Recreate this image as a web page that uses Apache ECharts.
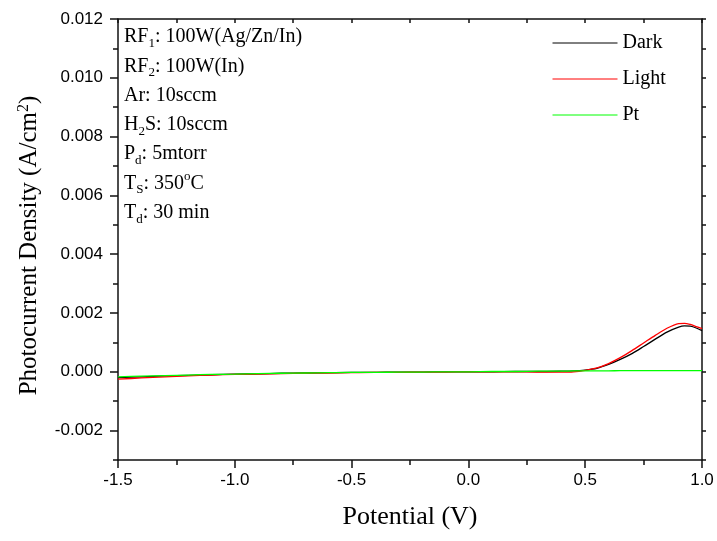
<!DOCTYPE html>
<html>
<head>
<meta charset="utf-8">
<script src="https://cdn.jsdelivr.net/npm/echarts@6/dist/echarts.min.js"></script>
<style>
  html, body { margin: 0; padding: 0; background: #fff; }
  #chart { width: 717px; height: 541px; }
</style>
</head>
<body>
<div id="chart"></div>
<script>
// Potential sweep (V)
const potential = [-1.5, -1.4, -1.3, -1.2, -1.1, -1.0, -0.9, -0.8, -0.7, -0.6, -0.5, -0.4, -0.3, -0.2, -0.1,
  0.0, 0.1, 0.2, 0.3, 0.4, 0.45, 0.5, 0.55, 0.6, 0.65, 0.7, 0.75, 0.8, 0.85, 0.9, 0.925, 0.95, 0.975, 1.0];

// Photocurrent density (A/cm^2)
const darkCurrent = [-0.00020, -0.00017, -0.00014, -0.00012, -0.00010, -0.00008, -0.00007, -0.00005, -0.00004, -0.00003,
  -0.00002, -0.00002, -0.00001, -0.00001, 0, 0, 0, 0.00001, 0.00001, 0.00002, 0.00003, 0.00006, 0.00012, 0.00025,
  0.00042, 0.00062, 0.00086, 0.00111, 0.00135, 0.00152, 0.00156, 0.00155, 0.00149, 0.00140];
const lightCurrent = [-0.00025, -0.00021, -0.00017, -0.00014, -0.00011, -0.00009, -0.00008, -0.00006, -0.00005, -0.00004,
  -0.00003, -0.00002, -0.00002, -0.00001, -0.00001, 0, 0, 0, -0.00001, -0.00001, 0, 0.00005, 0.00013, 0.00028,
  0.00048, 0.00072, 0.00098, 0.00124, 0.00148, 0.00164, 0.00165, 0.00161, 0.00154, 0.00147];
const ptCurrent = [-0.00017, -0.00015, -0.00013, -0.00011, -0.00009, -0.00008, -0.00006, -0.00005, -0.00004, -0.00003,
  -0.00002, -0.00002, -0.00001, -0.00001, 0, 0, 0.00001, 0.00001, 0.00002, 0.00002, 0.00003, 0.00003, 0.00003, 0.00003,
  0.00004, 0.00004, 0.00004, 0.00004, 0.00004, 0.00004, 0.00004, 0.00004, 0.00004, 0.00004];

// Labelled ticks on the current axis
const currentTicks = [-0.002, 0.000, 0.002, 0.004, 0.006, 0.008, 0.010, 0.012];

const seriesNames = ['Dark', 'Light', 'Pt'];
const seriesColors = ['#000000', '#ff0000', '#00ff00'];

// Deposition conditions, one entry per line (rich-text markup)
const conditionLines = [
  '{m|RF}{sub|1}{m|: 100W(Ag/Zn/In)}',
  '{m|RF}{sub|2}{m|: 100W(In)}',
  '{m|Ar: 10sccm}',
  '{m|H}{sub|2}{m|S: 10sccm}',
  '{m|P}{sub|d}{m|: 5mtorr}',
  '{m|T}{sub|S}{m|: 350}{sup|o}{m|C}',
  '{m|T}{sub|d}{m|: 30 min}'
];

const serif = '"Liberation Serif", "Times New Roman", serif';
const sans = '"Liberation Sans", Arial, sans-serif';

const pairs = (ys) => potential.map((x, i) => [x, ys[i]]);
const seriesData = [darkCurrent, lightCurrent, ptCurrent];

const axisLineStyle = { color: '#111', width: 1.5 };
const isLabelled = (v) => currentTicks.some((t) => Math.abs(t - v) < 1e-9);

const chart = echarts.init(document.getElementById('chart'), null, { renderer: 'canvas' });
chart.setOption({
  backgroundColor: '#fff',
  animation: false,
  grid: { left: 118, right: 15, top: 19, bottom: 81 },
  legend: {
    data: seriesNames,
    orient: 'vertical',
    left: 552,
    top: 33,
    padding: 0,
    itemWidth: 65,
    itemHeight: 14,
    itemGap: 16,
    itemStyle: { opacity: 0, borderWidth: 0 },
    lineStyle: { width: 1 },
    textStyle: { fontFamily: serif, fontSize: 20, color: '#000' }
  },
  xAxis: [
    {
      type: 'value', min: -1.5, max: 1.0, interval: 0.5,
      name: 'Potential (V)', nameLocation: 'middle', nameGap: 44,
      nameTextStyle: { fontFamily: serif, fontSize: 26, color: '#000' },
      axisLine: { show: true, onZero: false, lineStyle: axisLineStyle },
      axisTick: { show: true, length: 8, lineStyle: axisLineStyle },
      minorTick: { show: true, splitNumber: 2, length: 5, lineStyle: axisLineStyle },
      axisLabel: { fontFamily: sans, fontSize: 17, color: '#000', margin: 12,
        formatter: (v) => v.toFixed(1) },
      splitLine: { show: false }
    },
    {
      type: 'value', min: -1.5, max: 1.0, interval: 0.25, position: 'top',
      axisLine: { show: true, onZero: false, lineStyle: axisLineStyle },
      axisTick: { show: true, inside: true, length: 4, lineStyle: axisLineStyle },
      axisLabel: { show: false },
      splitLine: { show: false }
    }
  ],
  yAxis: [
    {
      type: 'value', min: -0.003, max: 0.012, interval: 0.001, position: 'left',
      name: 'Photocurrent Density (A/cm{sup|2})', nameLocation: 'middle', nameGap: 60,
      nameTextStyle: { fontFamily: serif, fontSize: 25, color: '#000', padding: [0, 12, 0, 0],
        rich: { sup: { fontFamily: serif, fontSize: 16, color: '#000', lineHeight: 14, padding: [0, 0, 12, 0] } } },
      axisLine: { show: true, onZero: false, lineStyle: axisLineStyle },
      axisTick: { show: true, length: 5, lineStyle: axisLineStyle },
      axisLabel: { fontFamily: sans, fontSize: 17, color: '#000', margin: 15,
        customValues: currentTicks,
        formatter: (v) => (isLabelled(v) ? v.toFixed(3) : '') },
      splitLine: { show: false }
    },
    {
      // longer ticks at the labelled values
      type: 'value', min: -0.003, max: 0.012, interval: 0.001, position: 'left', offset: 0,
      axisLine: { show: false, onZero: false },
      axisTick: { show: true, length: 8, customValues: currentTicks, lineStyle: axisLineStyle },
      axisLabel: { show: false },
      splitLine: { show: false }
    },
    {
      type: 'value', min: -0.003, max: 0.012, interval: 0.001, position: 'right',
      axisLine: { show: true, onZero: false, lineStyle: axisLineStyle },
      axisTick: { show: true, length: 4, lineStyle: axisLineStyle },
      axisLabel: { show: false },
      splitLine: { show: false }
    }
  ],
  graphic: [{
    type: 'text',
    left: 124,
    top: 24,
    style: {
      text: conditionLines.join('\n'),
      rich: {
        m: { fontFamily: serif, fontSize: 20, color: '#000', lineHeight: 29.3 },
        sub: { fontFamily: serif, fontSize: 13, color: '#000', lineHeight: 13, padding: [13, 0, 0, 0] },
        sup: { fontFamily: serif, fontSize: 13, color: '#000', lineHeight: 13, padding: [0, 0, 14, 0] }
      }
    }
  }],
  series: seriesNames.map((name, i) => ({
    name,
    type: 'line',
    xAxisIndex: 0,
    yAxisIndex: 0,
    data: pairs(seriesData[i]),
    showSymbol: false,
    symbol: 'none',
    smooth: 0.3,
    color: seriesColors[i],
    lineStyle: { color: seriesColors[i], width: 1.3 },
    z: 2 + i
  }))
});
</script>
</body>
</html>
